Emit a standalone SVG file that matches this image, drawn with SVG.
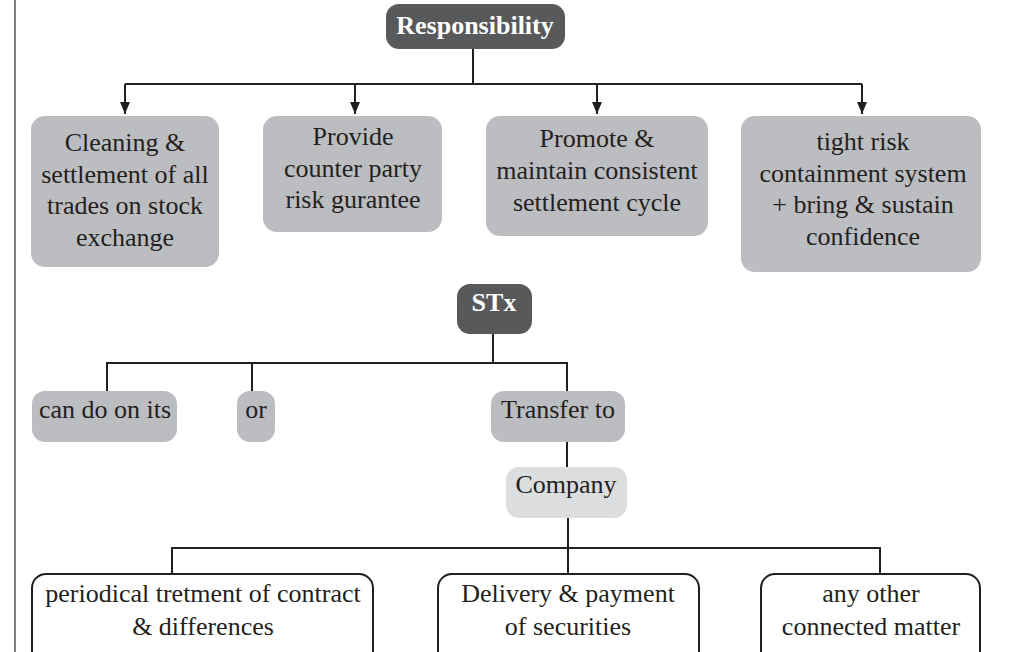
<svg xmlns="http://www.w3.org/2000/svg" width="1010" height="652" viewBox="0 0 1010 652">
<defs>
<marker id="arr" viewBox="0 0 12 10" refX="12" refY="5" markerWidth="12" markerHeight="10" markerUnits="userSpaceOnUse" orient="auto">
<path d="M0,0 L12,5 L0,10 Z" fill="#231f20"/>
</marker>
</defs>
<style>
.lbl{font-family:"Liberation Serif",serif;font-size:26px;font-weight:normal;fill:#231f20;text-anchor:middle}
.hdr{font-family:"Liberation Serif",serif;font-size:26px;font-weight:bold;fill:#ffffff;text-anchor:middle}
.dark{fill:#58595b}
.grey{fill:#bcbdc0}
.light{fill:#dcddde}
.out{fill:#ffffff;stroke:#231f20;stroke-width:2}
.ln{fill:none;stroke:#231f20;stroke-width:2}
</style>
<rect width="1010" height="652" fill="#ffffff"/>
<line x1="15" y1="0" x2="15" y2="652" stroke="#555" stroke-width="1.5"/>

<g id="connectors">
<path class="ln" d="M473,49 V84"/>
<path class="ln" d="M125,84 H862"/>
<path class="ln" d="M125,84 V114" marker-end="url(#arr)"/>
<path class="ln" d="M355,84 V114" marker-end="url(#arr)"/>
<path class="ln" d="M597,84 V114" marker-end="url(#arr)"/>
<path class="ln" d="M862,84 V114" marker-end="url(#arr)"/>
<path class="ln" d="M493,334 V363"/>
<path class="ln" d="M107,391 V363 H567 V391"/>
<path class="ln" d="M252,363 V391"/>
<path class="ln" d="M567,442 V467"/>
<path class="ln" d="M568,518 V574"/>
<path class="ln" d="M172,574 V548 H880 V574"/>
</g>

<g id="responsibility">
<rect class="dark" x="386" y="4" width="179" height="45" rx="13"/>
<text class="hdr" x="475" y="34">Responsibility</text>
</g>

<g id="box1">
<rect class="grey" x="31" y="116" width="188" height="151" rx="14"/>
<text class="lbl" x="125" y="151">Cleaning &amp;</text>
<text class="lbl" x="125" y="183">settlement of all</text>
<text class="lbl" x="125" y="214">trades on stock</text>
<text class="lbl" x="125" y="246">exchange</text>
</g>

<g id="box2">
<rect class="grey" x="263" y="116" width="179" height="116" rx="14"/>
<text class="lbl" x="353" y="145">Provide</text>
<text class="lbl" x="353" y="177">counter party</text>
<text class="lbl" x="353" y="208">risk gurantee</text>
</g>

<g id="box3">
<rect class="grey" x="486" y="116" width="222" height="120" rx="14"/>
<text class="lbl" x="597" y="147">Promote &amp;</text>
<text class="lbl" x="597" y="179">maintain consistent</text>
<text class="lbl" x="597" y="211">settlement cycle</text>
</g>

<g id="box4">
<rect class="grey" x="741" y="116" width="240" height="156" rx="14"/>
<text class="lbl" x="863" y="150">tight risk</text>
<text class="lbl" x="863" y="182">containment system</text>
<text class="lbl" x="863" y="213">+ bring &amp; sustain</text>
<text class="lbl" x="863" y="245">confidence</text>
</g>

<g id="stx">
<rect class="dark" x="457" y="284" width="75" height="50" rx="13"/>
<text class="hdr" x="494" y="311">STx</text>
</g>

<g id="cando">
<rect class="grey" x="32" y="391" width="145" height="51" rx="13"/>
<text class="lbl" x="105" y="418">can do on its</text>
</g>

<g id="or">
<rect class="grey" x="237" y="391" width="38" height="51" rx="13"/>
<text class="lbl" x="256" y="418">or</text>
</g>

<g id="transfer">
<rect class="grey" x="491" y="391" width="134" height="51" rx="13"/>
<text class="lbl" x="558" y="418">Transfer to</text>
</g>

<g id="company">
<rect class="light" x="506" y="467" width="121" height="51" rx="13"/>
<text class="lbl" x="566" y="493">Company</text>
</g>

<g id="periodical">
<rect class="out" x="32" y="574" width="341" height="100" rx="14"/>
<text class="lbl" x="203" y="602">periodical tretment of contract</text>
<text class="lbl" x="203" y="635">&amp; differences</text>
</g>

<g id="delivery">
<rect class="out" x="438" y="574" width="261" height="100" rx="14"/>
<text class="lbl" x="568" y="602">Delivery &amp; payment</text>
<text class="lbl" x="568" y="635">of securities</text>
</g>

<g id="other">
<rect class="out" x="761" y="574" width="219" height="100" rx="14"/>
<text class="lbl" x="871" y="602">any other</text>
<text class="lbl" x="871" y="635">connected matter</text>
</g>
</svg>
